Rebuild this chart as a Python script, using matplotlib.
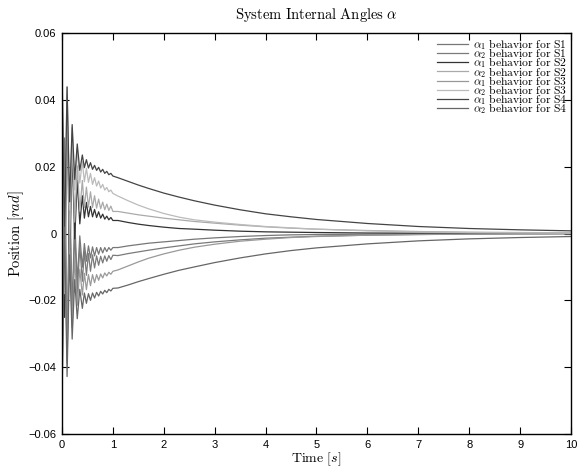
import numpy as np
import matplotlib
matplotlib.use('Agg')
import matplotlib.pyplot as plt

# times of the wiggle peaks/troughs in the first second, then the smooth tail
T_OSC = [0.0, 0.05, 0.10, 0.15, 0.20, 0.25, 0.30, 0.35, 0.40, 0.44, 0.48, 0.52,
         0.56, 0.60, 0.64, 0.68, 0.72, 0.76, 0.80, 0.84, 0.88, 0.92, 0.96, 1.00]
T_TAIL = [1.1, 1.3, 1.5, 1.7, 2.0, 2.3, 2.6, 3.0, 3.5, 4.0, 4.5, 5.0, 6, 7, 8, 9, 10]

# curve A (top, dark)
A_OSC = [0.0500, -0.0016, 0.0439, 0.0095, 0.0326, 0.0162, 0.0268, 0.0189, 0.0235, 0.0197, 0.0221, 0.0196,
         0.0212, 0.0192, 0.0204, 0.0189, 0.0198, 0.0184, 0.0192, 0.0180, 0.0186, 0.0176, 0.0180, 0.0172]
A_TAIL = [0.0167, 0.0156, 0.0145, 0.0135, 0.0121, 0.0109, 0.0098, 0.0085, 0.0071, 0.0059, 0.0050, 0.0042,
          0.0030, 0.0021, 0.0015, 0.0011, 0.0008]

# curve B (light gray)
B_OSC = [0.0530, -0.0045, 0.0437, 0.0070, 0.0317, 0.0130, 0.0253, 0.0151, 0.0215, 0.0155, 0.0195, 0.0153,
         0.0180, 0.0147, 0.0167, 0.0142, 0.0157, 0.0136, 0.0147, 0.0130, 0.0138, 0.0125, 0.0130, 0.0120]
B_TAIL = [0.0112, 0.0098, 0.0085, 0.0074, 0.0060, 0.0049, 0.0041, 0.0034, 0.0027, 0.0021, 0.0017, 0.0013,
          0.0008, 0.0005, 0.0003, 0.0002, 0.0001]

# curve C (mid gray, big wiggles)
C_OSC = [0.0470, -0.0180, 0.0413, -0.0044, 0.0280, 0.0034, 0.0203, 0.0067, 0.0159, 0.0078, 0.0139, 0.0079,
         0.0125, 0.0078, 0.0113, 0.0076, 0.0103, 0.0074, 0.0094, 0.0071, 0.0088, 0.0069, 0.0082, 0.0066]
C_TAIL = [0.0066, 0.0061, 0.0056, 0.0052, 0.0046, 0.0041, 0.0036, 0.0031, 0.0025, 0.0020, 0.0016, 0.0013,
          0.0009, 0.0006, 0.0004, 0.0003, 0.0002]

# curve D (dark, closest to zero above)
D_OSC = [0.0440, -0.0251, 0.0394, -0.0111, 0.0244, -0.0016, 0.0160, 0.0029, 0.0113, 0.0046, 0.0093, 0.0050,
         0.0081, 0.0050, 0.0072, 0.0048, 0.0065, 0.0046, 0.0058, 0.0043, 0.0052, 0.0041, 0.0048, 0.0039]
D_TAIL = [0.0039, 0.0033, 0.0028, 0.0024, 0.0019, 0.0015, 0.0013, 0.0010, 0.0007, 0.0005, 0.0004, 0.0003,
          0.00015, 0.0001, 0.00006, 0.00004, 0.00002]

# curve E (closest to zero below)
E_OSC = [-0.0440, 0.0286, -0.0372, 0.0150, -0.0228, 0.0044, -0.0144, -0.0007, -0.0101, -0.0030, -0.0083, -0.0037,
         -0.0073, -0.0040, -0.0067, -0.0042, -0.0062, -0.0042, -0.0058, -0.0042, -0.0054, -0.0042, -0.0050, -0.0042]
E_TAIL = [-0.0042, -0.0037, -0.0033, -0.0029, -0.0025, -0.0021, -0.0017, -0.0013, -0.0009, -0.0006, -0.0004,
          -0.0003, -0.0002, -0.0001, -0.00006, -0.00004, -0.00002]

# curve F
F_OSC = [-0.0470, 0.0217, -0.0380, 0.0093, -0.0255, 0.0008, -0.0180, -0.0037, -0.0143, -0.0053, -0.0125, -0.0060,
         -0.0113, -0.0064, -0.0103, -0.0067, -0.0095, -0.0068, -0.0088, -0.0067, -0.0083, -0.0066, -0.0078, -0.0065]
F_TAIL = [-0.0066, -0.0060, -0.0055, -0.0050, -0.0043, -0.0037, -0.0031, -0.0025, -0.0019, -0.0014, -0.0011,
          -0.0008, -0.0005, -0.0003, -0.0002, -0.0001, -0.00005]

# curve G
G_OSC = [-0.0530, 0.0109, -0.0388, -0.0004, -0.0281, -0.0073, -0.0215, -0.0107, -0.0184, -0.0119, -0.0168, -0.0123,
         -0.0156, -0.0123, -0.0147, -0.0123, -0.0140, -0.0121, -0.0133, -0.0118, -0.0127, -0.0116, -0.0122, -0.0113]
G_TAIL = [-0.0109, -0.0097, -0.0085, -0.0074, -0.0061, -0.0050, -0.0041, -0.0032, -0.0023, -0.0017, -0.0012,
          -0.0009, -0.0005, -0.0003, -0.00015, -0.0001, -0.00005]

# curve H (bottom)
H_OSC = [-0.0500, 0.0019, -0.0428, -0.0064, -0.0316, -0.0138, -0.0255, -0.0167, -0.0224, -0.0178, -0.0209, -0.0180,
         -0.0200, -0.0178, -0.0193, -0.0176, -0.0187, -0.0173, -0.0181, -0.0170, -0.0177, -0.0167, -0.0172, -0.0164]
H_TAIL = [-0.0163, -0.0154, -0.0144, -0.0135, -0.0122, -0.0110, -0.0100, -0.0087, -0.0073, -0.0061, -0.0051,
          -0.0043, -0.0031, -0.0022, -0.0016, -0.0012, -0.0009]

LABELS = [r'$\alpha_1\ \mathrm{behavior\ for\ S1}$', r'$\alpha_2\ \mathrm{behavior\ for\ S1}$',
          r'$\alpha_1\ \mathrm{behavior\ for\ S2}$', r'$\alpha_2\ \mathrm{behavior\ for\ S2}$',
          r'$\alpha_1\ \mathrm{behavior\ for\ S3}$', r'$\alpha_2\ \mathrm{behavior\ for\ S3}$',
          r'$\alpha_1\ \mathrm{behavior\ for\ S4}$', r'$\alpha_2\ \mathrm{behavior\ for\ S4}$']
COLORS = ['#777777', '#7a7a7a', '#333333', '#aaaaaa', '#999999', '#bbbbbb', '#444444', '#666666']

# which curve goes with which legend entry
CURVES = [(E_OSC, E_TAIL), (F_OSC, F_TAIL), (D_OSC, D_TAIL), (C_OSC, C_TAIL),
          (G_OSC, G_TAIL), (B_OSC, B_TAIL), (A_OSC, A_TAIL), (H_OSC, H_TAIL)]

plt.rcParams['mathtext.fontset'] = 'cm'
plt.rcParams['font.family'] = ['Liberation Sans', 'DejaVu Sans']

fig = plt.figure(figsize=(5.82, 4.69), dpi=100)
ax = fig.add_axes([0.1065, 0.0746, 0.8746, 0.855])

t = np.array(T_OSC + T_TAIL)
for (osc, tail), color, label in zip(CURVES, COLORS, LABELS):
    ax.plot(t, np.array(osc + tail), color=color, lw=0.9, label=label)

ax.set_xlim(0, 10)
ax.set_ylim(-0.06, 0.06)
ax.set_xticks(range(0, 11))
ax.set_yticks([-0.06, -0.04, -0.02, 0, 0.02, 0.04, 0.06])
ax.set_yticklabels(['\u22120.06', '\u22120.04', '\u22120.02', '0', '0.02', '0.04', '0.06'])
ax.tick_params(direction='in', top=True, right=True, length=5, width=0.8, labelsize=8, pad=4)
for s in ax.spines.values():
    s.set_linewidth(1.0)

ax.set_title(r'$\mathrm{System\ Internal\ Angles}\ \alpha$', fontsize=10.5, pad=10)
ax.set_xlabel(r'$\mathrm{Time}\ [s]$', fontsize=10, labelpad=1)
ax.set_ylabel(r'$\mathrm{Position}\ [rad]$', fontsize=10.5, labelpad=2)

ax.legend(loc='upper right', frameon=False, fontsize=8.4, labelspacing=-0.5,
          handlelength=2.6, handletextpad=0.45, borderaxespad=0.1, borderpad=0.25)

plt.savefig('out.png', dpi=100)
